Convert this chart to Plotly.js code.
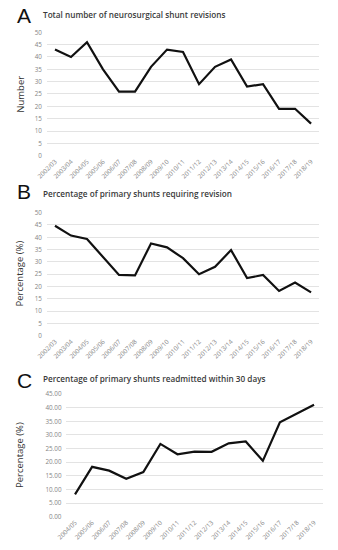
<!DOCTYPE html>
<html>
<head>
<meta charset="utf-8">
<script src="https://cdn.plot.ly/plotly-3.0.1.min.js"></script>
<style>html,body{margin:0;padding:0;background:#fff;}#chart{width:338px;height:550px;}</style>
</head>
<body>
<div id="chart"></div>
<script>
// Data
const yearsAB = ["2002/03","2003/04","2004/05","2005/06","2006/07","2007/08","2008/09","2009/10","2010/11","2011/12","2012/13","2013/14","2014/15","2015/16","2016/17","2017/18","2018/19"];
const revisions = [43, 40, 46, 35, 26, 26, 36, 43, 42, 29, 36, 39, 28, 29, 19, 19, 13];
const pctRevision = [44.7, 40.7, 39.3, 32.1, 24.7, 24.5, 37.5, 35.9, 31.5, 25.0, 28.0, 34.8, 23.4, 24.7, 18.2, 21.6, 17.6];
const yearsC = ["2004/05","2005/06","2006/07","2007/08","2008/09","2009/10","2010/11","2011/12","2012/13","2013/14","2014/15","2015/16","2016/17","2017/18","2018/19"];
const pctReadmit = [8.2, 18.3, 16.9, 13.9, 16.4, 26.7, 22.9, 23.9, 23.8, 26.9, 27.6, 20.5, 34.6, 37.8, 41.1];

const panelLetters = ["A", "B", "C"];
const panelTitles = ["Total number of neurosurgical shunt revisions", "Percentage of primary shunts requiring revision", "Percentage of primary shunts readmitted within 30 days"];
const yTitles = ["Number", "Percentage (%)", "Percentage (%)"];
const yTicksAB = [0, 5, 10, 15, 20, 25, 30, 35, 40, 45, 50];
const yTicksC = [0, 5, 10, 15, 20, 25, 30, 35, 40, 45];

const lineStyle = {color: "#111111", width: 2.2};
const traces = [
  {x: yearsAB, y: revisions, type: "scatter", mode: "lines", line: lineStyle, xaxis: "x", yaxis: "y", hoverinfo: "x+y"},
  {x: yearsAB, y: pctRevision, type: "scatter", mode: "lines", line: lineStyle, xaxis: "x2", yaxis: "y2", hoverinfo: "x+y"},
  {x: yearsC, y: pctReadmit, type: "scatter", mode: "lines", line: lineStyle, xaxis: "x3", yaxis: "y3", hoverinfo: "x+y"}
];

const tickFontY = {family: "Open Sans, sans-serif", size: 6.3, color: "#858585"};
const tickFontX = {family: "Open Sans, sans-serif", size: 6.3, color: "#858585"};

function xax(domain, anchor, n) {
  return {domain: domain, anchor: anchor, type: "category", range: [-0.5, n - 0.5],
    showgrid: false, gridcolor: "rgba(0,0,0,0)", zeroline: false, showline: false, ticks: "", tickangle: -45,
    showspikes: false, tickfont: tickFontX, fixedrange: true};
}
function yax(domain, anchor, range, tickvals, fmt, suffix) {
  return {domain: domain, anchor: anchor, range: range, tickvals: tickvals, tickformat: fmt, ticksuffix: suffix,
    showgrid: true, gridcolor: "#dcdcdc", gridwidth: 0.8, zeroline: false, showline: false, ticks: "",
    tickfont: tickFontY, ticklabelstandoff: 4, fixedrange: true};
}

const letterY = [0.971, 0.651, 0.309];
const titleY = [0.974, 0.649, 0.312];
const yTitleY = [0.829, 0.502, 0.172];
const annotations = [];
for (let i = 0; i < 3; i++) {
  annotations.push({text: panelLetters[i], xref: "paper", yref: "paper", x: 0.045, y: letterY[i], xanchor: "left", yanchor: "middle",
    showarrow: false, font: {family: "Liberation Sans, Arial, sans-serif", size: 21, color: "#111"}});
  annotations.push({text: panelTitles[i], xref: "paper", yref: "paper", x: 0.122, y: titleY[i], xanchor: "left", yanchor: "middle",
    showarrow: false, font: {family: "Open Sans, sans-serif", size: 8.2, color: "#3a3a3a", weight: 600}});
  annotations.push({text: yTitles[i], xref: "paper", yref: "paper", x: 0.058, y: yTitleY[i], xanchor: "center", yanchor: "middle",
    textangle: -90, showarrow: false, font: {family: "Open Sans, sans-serif", size: 9.5, color: "#333"}});
}

const layout = {
  width: 338, height: 550,
  margin: {l: 0, r: 0, t: 0, b: 0},
  paper_bgcolor: "#ffffff", plot_bgcolor: "#ffffff",
  showlegend: false,
  xaxis: xax([0.139, 0.944], "y", yearsAB.length),
  yaxis: yax([0.7169, 0.9413], "x", [0, 50], yTicksAB, "d", ""),
  xaxis2: xax([0.139, 0.944], "y2", yearsAB.length),
  yaxis2: yax([0.3896, 0.6133], "x2", [0, 50], yTicksAB, "d", ""),
  xaxis3: xax([0.1967, 0.9544], "y3", yearsC.length),
  yaxis3: yax([0.0605, 0.2836], "x3", [0, 45], yTicksC, ".2f", "%"),
  annotations: annotations
};

Plotly.newPlot("chart", traces, layout, {displayModeBar: false, staticPlot: true});
</script>
</body>
</html>
